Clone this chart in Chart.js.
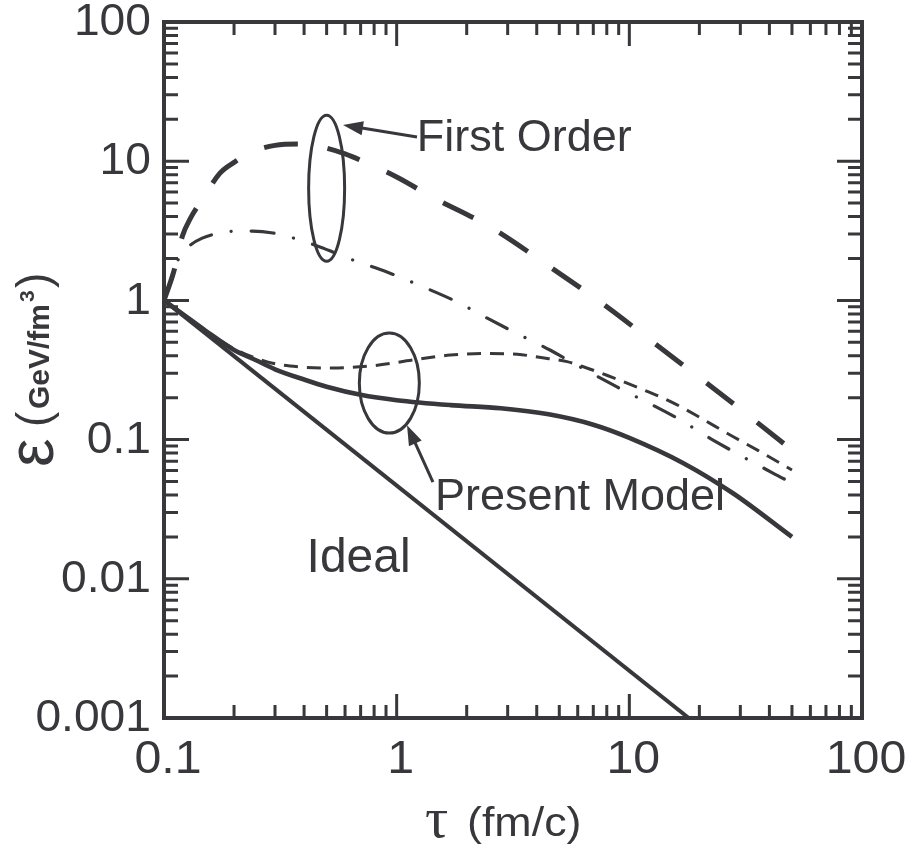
<!DOCTYPE html>
<html>
<head>
<meta charset="utf-8">
<style>
  body { margin: 0; background: #fff; }
  canvas { display: block; }
</style>
<script src="https://cdn.jsdelivr.net/npm/chart.js@4"></script>
</head>
<body>
<canvas id="myChart" width="905" height="861"></canvas>
<script>
const INK = '#38383c';
const FONT = '"Liberation Sans", Arial, sans-serif';

// tau (fm/c) / epsilon (GeV/fm^3)
const tauIdeal = [0.1, 18];
const epsIdeal = [1, 0.001];

const tauPresent = [0.1, 0.12, 0.15, 0.2, 0.25, 0.3, 0.4, 0.5, 0.7, 1.0, 1.7, 2.8, 4.5, 7, 10, 17, 28, 50];
const epsPresent = [1, 0.80, 0.61, 0.44, 0.37, 0.32, 0.27, 0.24, 0.21, 0.192, 0.177, 0.168, 0.152, 0.128, 0.103, 0.068, 0.041, 0.020];

const tauPresentDash = [0.1, 0.12, 0.15, 0.2, 0.28, 0.38, 0.53, 0.8, 1.17, 1.7, 2.35, 3.3, 4.1, 5.4, 6.3, 8, 11, 15.2, 20, 26.3, 36, 50];
const epsPresentDash = [1, 0.80, 0.61, 0.45, 0.36, 0.333, 0.327, 0.34, 0.373, 0.405, 0.415, 0.41, 0.39, 0.363, 0.335, 0.29, 0.235, 0.186, 0.145, 0.111, 0.083, 0.0605];

const tauFirstLong = [0.1, 0.11, 0.12, 0.13, 0.146, 0.174, 0.2, 0.234, 0.3, 0.38, 0.46, 0.6, 0.745, 1.0, 1.43, 2.52, 4.56, 8.0, 13.5, 22.9, 35, 50];
const epsFirstLong = [1, 1.6, 2.9, 3.9, 5.3, 8.2, 9.8, 11.5, 13.0, 13.3, 12.8, 11.3, 9.7, 7.7, 5.5, 3.37, 1.74, 0.9, 0.46, 0.235, 0.135, 0.084];

const tauFirstDashDot = [0.1, 0.11, 0.117, 0.13, 0.146, 0.174, 0.21, 0.24, 0.294, 0.372, 0.468, 0.649, 0.908, 1.3, 1.82, 2.44, 3.39, 4.56, 6.0, 8.85, 16, 22.9, 41.4, 50];
const epsFirstDashDot = [1, 1.55, 2.1, 2.5, 2.8, 3.05, 3.15, 3.15, 3.05, 2.76, 2.42, 1.95, 1.6, 1.25, 0.974, 0.748, 0.564, 0.44, 0.34, 0.239, 0.143, 0.0993, 0.0575, 0.0488];

const xTickLabels = ['0.1', '1', '10', '100'];
const yTickLabels = ['0.001', '0.01', '0.1', '1', '10', '100'];

function toPoints(xs, ys) {
    return xs.map((x, i) => ({ x: x, y: ys[i] }));
}

function line(xs, ys, width, dash) {
    return {
        data: toPoints(xs, ys),
        showLine: true,
        borderColor: INK,
        borderWidth: width,
        borderDash: dash,
        borderCapStyle: dash.length === 4 ? 'round' : 'butt',
        cubicInterpolationMode: 'monotone',
        pointRadius: 0,
        fill: false
    };
}

function stretchText(ctx, text, x, y, sx) {
    ctx.save();
    ctx.translate(x, y);
    ctx.scale(sx, 1);
    ctx.fillText(text, 0, 0);
    ctx.restore();
}

function arrow(ctx, x1, y1, x2, y2) {
    const a = Math.atan2(y2 - y1, x2 - x1);
    const len = 20, half = 7;
    ctx.beginPath();
    ctx.moveTo(x1, y1);
    ctx.lineTo(x2 - Math.cos(a) * len * 0.8, y2 - Math.sin(a) * len * 0.8);
    ctx.stroke();
    ctx.beginPath();
    ctx.moveTo(x2, y2);
    ctx.lineTo(x2 - Math.cos(a) * len - Math.sin(a) * half, y2 - Math.sin(a) * len + Math.cos(a) * half);
    ctx.lineTo(x2 - Math.cos(a) * len + Math.sin(a) * half, y2 - Math.sin(a) * len - Math.cos(a) * half);
    ctx.closePath();
    ctx.fill();
}

// frame, inward ticks on all four sides, labels and annotations
const framePlugin = {
    id: 'frame',
    afterDraw(chart) {
        const ctx = chart.ctx;
        const area = chart.chartArea;
        const xs = chart.scales.x;
        const ys = chart.scales.y;
        ctx.save();
        ctx.strokeStyle = INK;
        ctx.fillStyle = INK;
        ctx.lineCap = 'butt';

        // ticks
        ctx.lineWidth = 3;
        for (let k = -1; k <= 2; k++) {
            for (let m = 1; m <= 9; m++) {
                const v = m * Math.pow(10, k);
                if (v <= xs.min || v >= xs.max) continue;
                const px = xs.getPixelForValue(v);
                const len = m === 1 ? 24 : 13;
                ctx.beginPath();
                ctx.moveTo(px, area.bottom); ctx.lineTo(px, area.bottom - len);
                ctx.moveTo(px, area.top); ctx.lineTo(px, area.top + len);
                ctx.stroke();
            }
        }
        for (let k = -3; k <= 1; k++) {
            for (let m = 1; m <= 9; m++) {
                const v = m * Math.pow(10, k);
                if (v <= ys.min || v >= ys.max) continue;
                const py = ys.getPixelForValue(v);
                const len = m === 1 ? 25 : 14;
                ctx.beginPath();
                ctx.moveTo(area.left, py); ctx.lineTo(area.left + len, py);
                ctx.moveTo(area.right, py); ctx.lineTo(area.right - len, py);
                ctx.stroke();
            }
        }

        ctx.lineWidth = 4;
        ctx.strokeRect(area.left, area.top, area.right - area.left, area.bottom - area.top);

        // tick labels
        ctx.font = '44px ' + FONT;
        ctx.textAlign = 'right';
        ctx.textBaseline = 'middle';
        yTickLabels.forEach(t => {
            stretchText(ctx, t, area.left - 13, ys.getPixelForValue(parseFloat(t)) + 1, 1.05);
        });
        ctx.font = '46px ' + FONT;
        ctx.textAlign = 'center';
        ctx.textBaseline = 'alphabetic';
        xTickLabels.forEach(t => {
            stretchText(ctx, t, xs.getPixelForValue(parseFloat(t)) + 4, area.bottom + 55, 1.05);
        });

        // x title
        ctx.textAlign = 'left';
        ctx.font = '58px "Liberation Serif", serif';
        ctx.fillText('τ', 425, 837);
        ctx.font = '40px ' + FONT;
        stretchText(ctx, '(fm/c)', 467, 836, 1.12);

        // y title, rotated
        ctx.save();
        ctx.translate(53, 467);
        ctx.rotate(-Math.PI / 2);
        ctx.textAlign = 'left';
        ctx.font = '64px ' + FONT;
        ctx.fillText('ε', 0, 0);
        ctx.font = '46px ' + FONT;
        ctx.fillText('(', 40, -4);
        ctx.font = 'bold 30px ' + FONT;
        ctx.fillText('GeV/fm', 58, -4);
        let w = ctx.measureText('GeV/fm').width;
        ctx.font = 'bold 21px ' + FONT;
        ctx.fillText('3', 60 + w, -19);
        ctx.font = '46px ' + FONT;
        ctx.fillText(')', 60 + w + 14, -4);
        ctx.restore();

        // annotations
        ctx.lineWidth = 3;
        ctx.beginPath();
        ctx.ellipse(xs.getPixelForValue(0.50), ys.getPixelForValue(6.4), 18, 73, 0, 0, Math.PI * 2);
        ctx.stroke();
        ctx.beginPath();
        ctx.ellipse(xs.getPixelForValue(0.93), ys.getPixelForValue(0.255), 30, 50, 0, 0, Math.PI * 2);
        ctx.stroke();

        arrow(ctx, xs.getPixelForValue(1.223), ys.getPixelForValue(14.9), xs.getPixelForValue(0.588), ys.getPixelForValue(18.2));
        arrow(ctx, xs.getPixelForValue(1.432), ys.getPixelForValue(0.0495), xs.getPixelForValue(1.108), ys.getPixelForValue(0.127));

        ctx.font = '45px ' + FONT;
        ctx.textAlign = 'left';
        ctx.textBaseline = 'alphabetic';
        stretchText(ctx, 'First Order', xs.getPixelForValue(1.22), ys.getPixelForValue(11.8), 1.0);
        stretchText(ctx, 'Present Model', xs.getPixelForValue(1.46), ys.getPixelForValue(0.0312), 1.0);
        ctx.font = '48px ' + FONT;
        stretchText(ctx, 'Ideal', xs.getPixelForValue(0.41), ys.getPixelForValue(0.0112), 1.0);

        ctx.restore();
    }
};

const ctx = document.getElementById('myChart').getContext('2d');
const myChart = new Chart(ctx, {
    type: 'scatter',
    data: {
        datasets: [
            line(tauFirstLong, epsFirstLong, 5, [34, 30]),
            line(tauFirstDashDot, epsFirstDashDot, 3.2, [23, 20, 0.1, 20]),
            line(tauPresentDash, epsPresentDash, 3, [14, 9]),
            line(tauPresent, epsPresent, 4.6, []),
            line(tauIdeal, epsIdeal, 4, [])
        ]
    },
    options: {
        responsive: false,
        animation: false,
        devicePixelRatio: 1,
        layout: {
            padding: { left: 164, top: 22, right: 43, bottom: 143 }
        },
        scales: {
            x: { type: 'logarithmic', min: 0.1, max: 100, display: false },
            y: { type: 'logarithmic', min: 0.001, max: 100, display: false }
        },
        plugins: {
            legend: { display: false },
            tooltip: { enabled: false }
        }
    },
    plugins: [framePlugin]
});
</script>
</body>
</html>
